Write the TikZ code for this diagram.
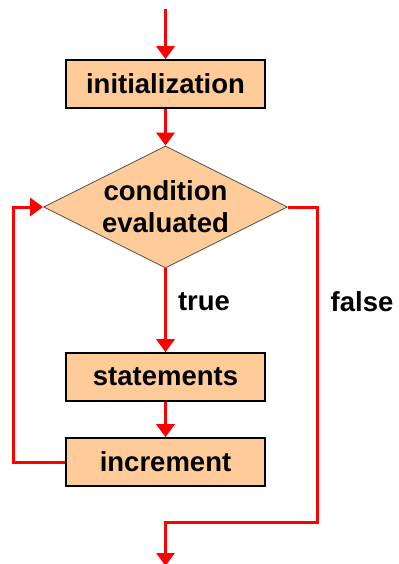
\documentclass[tikz,border=0pt]{standalone}
\usepackage{fontspec}
\setmainfont{Liberation Sans}
\usetikzlibrary{shapes.geometric,arrows.meta}
\definecolor{boxfill}{HTML}{FFCC99}
\definecolor{flowred}{HTML}{FF0000}
\begin{document}
\begin{tikzpicture}[x=1bp,y=-1bp,
  txt/.style={font=\fontsize{27.5bp}{32bp}\selectfont\bfseries, text=black},
  box/.style={txt, draw=black, line width=1.6bp, fill=boxfill, minimum width=199bp, minimum height=48bp, inner sep=0pt},
  dia/.style={txt, shape=diamond, draw=black!70, line width=0.8bp, fill=boxfill, minimum width=244bp, minimum height=122bp, inner sep=0pt, aspect=2, align=center},
  flow/.style={draw=flowred, line width=3bp, -{Triangle[width=18bp,length=13bp]}},
  lbl/.style={txt, inner sep=0pt}
]
\useasboundingbox (0,0) rectangle (398,564);
\node[box] (init) at (165.5,84) {initialization};
\node[dia] (cond) at (165.5,207) {condition\\evaluated};
\node[box] (stat) at (165.5,377) {statements};
\node[box] (inc) at (165.5,462) {increment};
\node[lbl] (t) at (204,302) {true};
\node[lbl] (f) at (362,302) {false};
\coordinate (top) at (165.5,9);
\coordinate (bot) at (165.5,566);
\coordinate (lt) at (13,207);
\coordinate (rb) at (317,522);
\draw[flow] (top) -- (init.north);
\draw[flow] (init.south) -- (cond.north);
\draw[flow] (cond.south) -- (stat.north);
\draw[flow] (stat.south) -- (inc.north);
\draw[flow] (inc.west) -| (lt) -- (cond.west);
\draw[flow] (cond.east) -| (rb) -| (bot);
\end{tikzpicture}
\end{document}
